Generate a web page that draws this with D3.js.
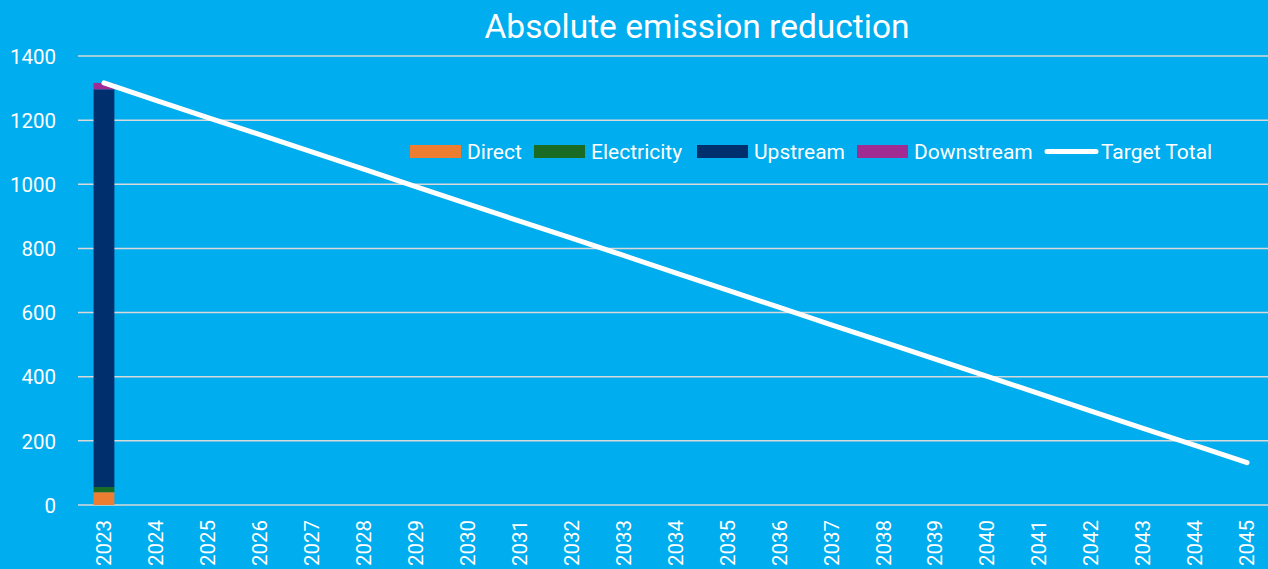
<!DOCTYPE html>
<html><head><meta charset="utf-8">
<script src="https://cdn.jsdelivr.net/npm/d3@7"></script>
<style>
html,body{margin:0;padding:0;background:#00ADEE;}
svg{display:block;font-family:Roboto, "Open Sans", sans-serif;}
</style></head>
<body>
<svg id="chart" width="1268" height="569"></svg>
<script>
const years = ["2023","2024","2025","2026","2027","2028","2029","2030","2031","2032","2033","2034","2035","2036","2037","2038","2039","2040","2041","2042","2043","2044","2045"];
const direct = [40];
const electricity = [16];
const upstream = [1240];
const downstream = [20];
const targetTotal = [1316,1262,1208,1155,1101,1047,993,939,885,832,778,724,670,616,562,509,455,401,347,293,239,186,132];
const yTicks = [0,200,400,600,800,1000,1200,1400];
const seriesNames = ["Direct","Electricity","Upstream","Downstream"];
const seriesColors = ["#ED7D31","#1A6B24","#002F6E","#A02B93"];

const svg = d3.select("#chart");
const W = 1268, H = 569;
svg.append("rect").attr("width",W).attr("height",H).attr("fill","#00ADEE");

const x = d3.scaleBand().domain(years).range([78,1273]).paddingInner(0.6).paddingOuter(0.3);
const y = d3.scaleLinear().domain([0,1400]).range([505,56]);

// gridlines
svg.append("g").selectAll("line").data(yTicks).join("line")
  .attr("x1",78).attr("x2",1273)
  .attr("y1",d=>y(d)).attr("y2",d=>y(d))
  .attr("stroke","#D9D9D9").attr("stroke-width",1.5);

// y axis labels
const yAxis = d3.axisLeft(y).tickValues(yTicks).tickFormat(d3.format("d")).tickSize(0).tickPadding(0);
const yg = svg.append("g").attr("transform","translate(56,0)").call(yAxis);
yg.select(".domain").remove();
yg.selectAll("text").attr("fill","#fff").attr("font-size",20.5).attr("font-family","Roboto, sans-serif").attr("dy","0.35em");

// x axis labels
const xAxis = d3.axisBottom(x).tickSize(0).tickPadding(0);
const xg = svg.append("g").attr("transform","translate(0,520)").call(xAxis);
xg.select(".domain").remove();
xg.selectAll("text")
  .attr("fill","#fff").attr("font-size",20.5).attr("font-family","Roboto, sans-serif")
  .attr("text-anchor","end")
  .attr("transform","rotate(-90)")
  .attr("x",0).attr("y",0).attr("dy","0.35em");

// stacked bars
const rows = years.map((yr,i)=>({year:yr, Direct:direct[i]||0, Electricity:electricity[i]||0, Upstream:upstream[i]||0, Downstream:downstream[i]||0}));
const stack = d3.stack().keys(seriesNames)(rows);
svg.append("g").selectAll("g").data(stack).join("g")
  .attr("fill",(d,i)=>seriesColors[i])
  .selectAll("rect").data(d=>d.filter(p=>p[1]-p[0]>0)).join("rect")
  .attr("x",d=>x(d.data.year)).attr("width",x.bandwidth())
  .attr("y",d=>y(d[1])).attr("height",d=>y(d[0])-y(d[1]));

// target line
const line = d3.line().x((d,i)=>x(years[i])+x.bandwidth()/2).y(d=>y(d));
svg.append("path").datum(targetTotal).attr("d",line)
  .attr("fill","none").attr("stroke","#fff").attr("stroke-width",5).attr("stroke-linecap","round");

// title
svg.append("text").attr("x",697).attr("y",38).attr("text-anchor","middle")
  .attr("fill","#fff").attr("font-size",33.5).text("Absolute emission reduction");

// legend
const legendItems = [
  {name:"Direct", color:seriesColors[0], x:410, type:"rect"},
  {name:"Electricity", color:seriesColors[1], x:534, type:"rect"},
  {name:"Upstream", color:seriesColors[2], x:697, type:"rect"},
  {name:"Downstream", color:seriesColors[3], x:857, type:"rect"},
  {name:"Target Total", color:"#fff", x:1044, type:"line"}
];
const lg = svg.append("g");
legendItems.forEach(it=>{
  if(it.type==="rect"){
    lg.append("rect").attr("x",it.x).attr("y",145).attr("width",51).attr("height",13).attr("fill",it.color);
  } else {
    lg.append("line").attr("x1",it.x+3).attr("x2",it.x+52).attr("y1",151.5).attr("y2",151.5)
      .attr("stroke",it.color).attr("stroke-width",5).attr("stroke-linecap","round");
  }
  lg.append("text").attr("x",it.x+57).attr("y",151.5).attr("dy","0.35em")
    .attr("fill","#fff").attr("font-size",21).text(it.name);
});
</script>
</body></html>
